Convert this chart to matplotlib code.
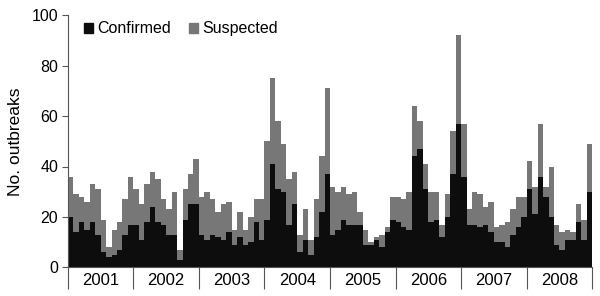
import matplotlib.pyplot as plt
import matplotlib.patches as mpatches
import numpy as np

plt.rcParams['font.family'] = ['Liberation Sans', 'DejaVu Sans']

years = ['2001', '2002', '2003', '2004', '2005', '2006', '2007', '2008']

# monthly totals (confirmed + suspected) and confirmed counts, Jan 2001 - Dec 2008
total = [
    36, 29, 28, 26, 33, 31, 19, 8, 15, 18, 27, 36,
    31, 25, 33, 38, 35, 27, 23, 30, 7, 31, 37, 43,
    28, 30, 27, 22, 25, 26, 15, 22, 15, 20, 27, 27,
    50, 75, 58, 49, 35, 38, 13, 23, 11, 27, 44, 71,
    32, 30, 32, 29, 30, 22, 15, 10, 12, 13, 16, 28,
    28, 27, 30, 64, 58, 41, 30, 30, 17, 29, 54, 92,
    57, 23, 30, 29, 24, 26, 16, 17, 18, 23, 28, 28,
    42, 32, 57, 32, 40, 17, 14, 15, 14, 25, 19, 49,
]
confirmed = [
    20, 14, 18, 15, 18, 13, 6, 4, 5, 7, 13, 17,
    17, 11, 18, 24, 18, 17, 13, 13, 3, 19, 25, 25,
    13, 11, 13, 12, 11, 14, 9, 12, 9, 10, 18, 11,
    19, 41, 31, 30, 17, 25, 6, 11, 5, 12, 22, 37,
    13, 15, 19, 17, 17, 17, 9, 9, 11, 8, 14, 19,
    18, 16, 15, 44, 47, 31, 18, 19, 12, 20, 37, 57,
    36, 17, 17, 16, 17, 14, 10, 10, 8, 13, 16, 20,
    31, 21, 36, 28, 20, 9, 7, 11, 11, 18, 11, 30,
]

total = np.array(total)
confirmed = np.array(confirmed)
suspected = total - confirmed
x = np.arange(len(total))

black = '#0d0d0d'
grey = '#777777'

fig = plt.figure(figsize=(6, 2.96), dpi=100)
ax = fig.add_axes([0.113, 0.0963, 0.874, 0.853])

ax.bar(x, confirmed, width=1.0, color=black, linewidth=0)
ax.bar(x, suspected, width=1.0, bottom=confirmed, color=grey, linewidth=0)

ax.set_xlim(-0.5, len(total) - 0.5)
ax.set_ylim(0, 100)
ax.set_yticks([0, 20, 40, 60, 80, 100])
ax.tick_params(axis='y', labelsize=11.5, length=4, width=0.8, color='#555555', pad=3)
ax.set_ylabel('No. outbreaks', fontsize=12.5, labelpad=6)

# year separators as long ticks, year names as minor tick labels
bounds = np.arange(len(years) + 1) * 12 - 0.5
centers = np.arange(len(years)) * 12 + 5.5
ax.set_xticks(bounds)
ax.set_xticklabels([])
ax.set_xticks(centers, minor=True)
ax.set_xticklabels(years, minor=True)
ax.tick_params(axis='x', which='major', length=16, width=0.8, color='#555555')
ax.tick_params(axis='x', which='minor', length=0, labelsize=12, pad=4)

for s in ['top', 'right']:
    ax.spines[s].set_visible(False)
ax.spines['left'].set_color('#555555')
ax.spines['bottom'].set_color('#555555')
ax.spines['left'].set_linewidth(0.8)
ax.spines['bottom'].set_linewidth(0.8)

handles = [mpatches.Patch(color=black, label='Confirmed'),
           mpatches.Patch(color=grey, label='Suspected')]
ax.legend(handles=handles, loc='upper left', bbox_to_anchor=(0.019, 1.0), ncol=2,
          frameon=False, fontsize=11.5, handlelength=0.55, handleheight=0.55,
          handletextpad=0.3, columnspacing=1.1, borderaxespad=0.0)

fig.savefig('out.png', dpi=100)
